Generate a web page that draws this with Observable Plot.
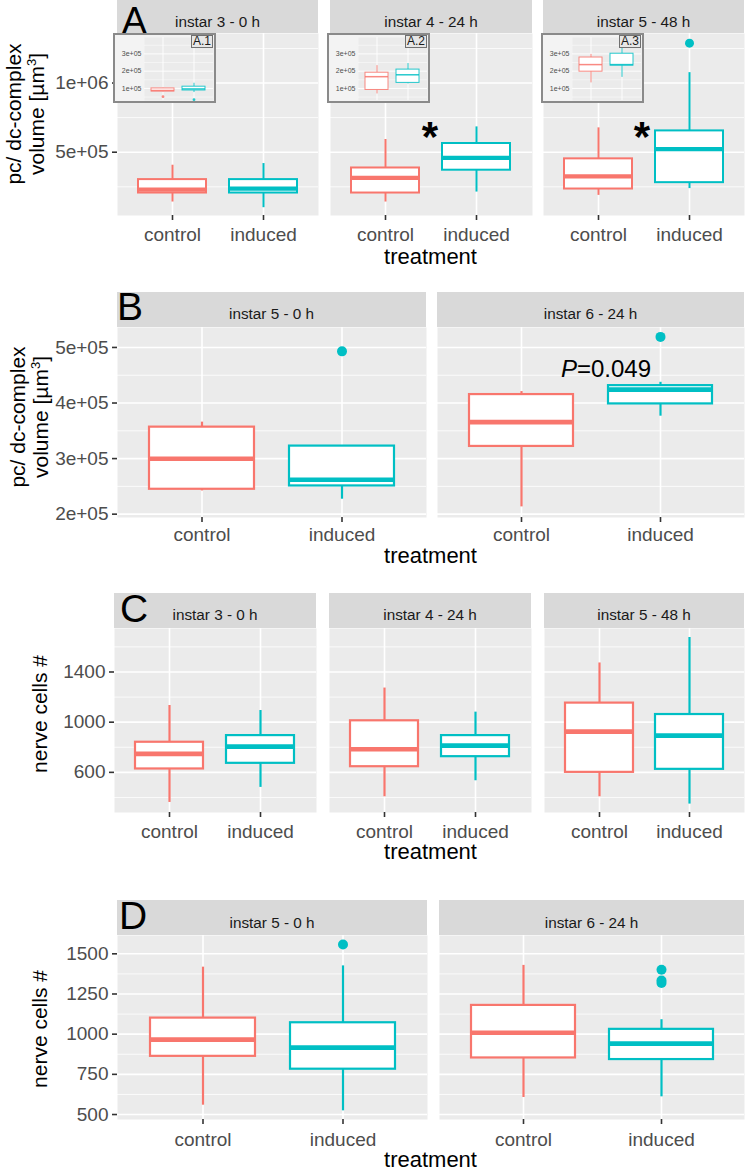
<!DOCTYPE html>
<html><head><meta charset="utf-8">
<script src="https://cdn.jsdelivr.net/npm/d3@7"></script>
<script src="https://cdn.jsdelivr.net/npm/@observablehq/plot@0.6"></script>
<style>
body{margin:0;background:#fff;}
#root{position:relative;width:749px;height:1171px;overflow:hidden;font-family:"Liberation Sans",Arial,sans-serif;background:#fff;}
.strip{position:absolute;background:#D9D9D9;}
.stript{position:absolute;color:#1a1a1a;font-size:15.3px;line-height:15px;text-align:center;white-space:nowrap;}
.tag{position:absolute;font-size:39px;color:#000;line-height:30px;}
.xt{position:absolute;font-size:22px;color:#000;text-align:center;line-height:22px;}
.yt{position:absolute;font-size:21px;color:#000;text-align:center;white-space:nowrap;transform:rotate(-90deg);transform-origin:50% 50%;}
.yt sup{font-size:13px;line-height:0;vertical-align:super;}
.inset{position:absolute;box-sizing:border-box;border:2px solid #8a8a8a;background:#f3f3f3;}
.ilabel{position:absolute;right:1px;top:0px;border:1.5px solid #707070;background:#e6e6e6;font-size:12px;line-height:11px;padding:0 1px;color:#1a1a1a;}
.ann{position:absolute;color:#000;text-align:center;white-space:nowrap;}
</style></head><body><div id="root"></div><script>
// ---------------- data ----------------
const treatments = ["control", "induced"];
const stagesA = ["instar 3 - 0 h", "instar 4 - 24 h", "instar 5 - 48 h"];
const stagesB = ["instar 5 - 0 h", "instar 6 - 24 h"];

// A: pc/dc-complex volume, per stage: control, induced
const volA_low  = [140e3,  99e3, 140e3, 212e3, 188e3,  237e3];
const volA_q1   = [205e3, 205e3, 205e3, 370e3, 234e3,  280e3];
const volA_med  = [230e3, 237e3, 314e3, 459e3, 326e3,  522e3];
const volA_q3   = [302e3, 302e3, 386e3, 563e3, 452e3,  654e3];
const volA_high = [406e3, 418e3, 592e3, 683e3, 676e3, 1075e3];
const volA_outStage = ["instar 5 - 48 h"];
const volA_outTreatment = ["induced"];
const volA_outValue = [1288e3];
const volA_ticks = [5e5, 1e6];
const volA_tickLabels = ["5e+05", "1e+06"];
const volA_minor = [2.5e5, 7.5e5, 1.25e6];

// A insets (A.1 - A.3)
const insetA_labels = ["A.1", "A.2", "A.3"];
const insetA_low  = [ 80e3,  76e3,  68e3, 126e3, 132e3, 164e3];
const insetA_q1   = [ 82e3,  88e3,  91e3, 132e3, 197e3, 232e3];
const insetA_med  = [ 88e3,  97e3, 168e3, 179e3, 238e3, 238e3];
const insetA_q3   = [100e3, 110e3, 191e3, 209e3, 279e3, 301e3];
const insetA_high = [102e3, 130e3, 232e3, 244e3, 297e3, 385e3];
const insetA_outStage = ["instar 3 - 0 h", "instar 3 - 0 h"];
const insetA_outTreatment = ["control", "induced"];
const insetA_outValue = [52e3, 35e3];
const insetA_ticks = [1e5, 2e5, 3e5];
const insetA_tickLabels = ["1e+05", "2e+05", "3e+05"];
const insetA_minor = [0.5e5, 1.5e5, 2.5e5, 3.5e5];

// B: pc/dc-complex volume
const volB_low  = [241.8e3, 226.9e3, 213.1e3, 376.3e3];
const volB_q1   = [244.8e3, 250.8e3, 321.9e3, 398.4e3];
const volB_med  = [299.8e3, 262.0e3, 365.6e3, 424.1e3];
const volB_q3   = [356.6e3, 322.5e3, 415.2e3, 431.3e3];
const volB_high = [365.6e3, 322.5e3, 420.6e3, 437.3e3];
const volB_outStage = ["instar 5 - 0 h", "instar 6 - 24 h"];
const volB_outTreatment = ["induced", "induced"];
const volB_outValue = [493e3, 519e3];
const volB_ticks = [2e5, 3e5, 4e5, 5e5];
const volB_tickLabels = ["2e+05", "3e+05", "4e+05", "5e+05"];
const volB_minor = [2.5e5, 3.5e5, 4.5e5];

// C: nerve cells
const cellsC_low  = [ 360,  480,  405,  533,  405,  347];
const cellsC_q1   = [ 627,  672,  645,  725,  600,  624];
const cellsC_med  = [ 747,  805,  784,  813,  925,  893];
const cellsC_q3   = [ 840,  893, 1011,  893, 1152, 1061];
const cellsC_high = [1133, 1093, 1272, 1080, 1472, 1675];
const cellsC_ticks = [600, 1000, 1400];
const cellsC_tickLabels = ["600", "1000", "1400"];
const cellsC_minor = [400, 800, 1200, 1600];

// D: nerve cells
const cellsD_low  = [ 558,  523,  606,  610];
const cellsD_q1   = [ 862,  782,  852,  842];
const cellsD_med  = [ 966,  916, 1009,  941];
const cellsD_q3   = [1100, 1071, 1179, 1030];
const cellsD_high = [1417, 1425, 1428, 1090];
const cellsD_outStage = ["instar 5 - 0 h", "instar 6 - 24 h", "instar 6 - 24 h", "instar 6 - 24 h"];
const cellsD_outTreatment = ["induced", "induced", "induced", "induced"];
const cellsD_outValue = [1558, 1401, 1334, 1318];
const cellsD_ticks = [500, 750, 1000, 1250, 1500];
const cellsD_tickLabels = ["500", "750", "1000", "1250", "1500"];
const cellsD_minor = [625, 875, 1125, 1375];

const treatmentColors = ["#F8766D", "#00BFC4"];

// ---------------- helpers ----------------
function makeBoxes(stages, low, q1, med, q3, high) {
  return stages.flatMap((s, si) => treatments.map((t, ti) => {
    const i = si * treatments.length + ti;
    return {stage: s, treatment: t, low: low[i], q1: q1[i], med: med[i], q3: q3[i], high: high[i]};
  }));
}
function makeOuts(st, tr, val) {
  return (st || []).map((s, i) => ({stage: s, treatment: tr[i], value: val[i]}));
}

const root = document.getElementById("root");
function place(el, left, top) {
  el.style.position = "absolute"; el.style.left = left + "px"; el.style.top = top + "px";
  root.appendChild(el); return el;
}
function div(cls, html, left, top, w, h) {
  const d = document.createElement("div"); d.className = cls; d.innerHTML = html;
  if (w != null) d.style.width = w + "px";
  if (h != null) d.style.height = h + "px";
  return place(d, left, top);
}

function panelPlot(o) {
  const fmt = new Map(o.ticks.map((t, i) => [t, o.tickLabels[i]]));
  const marks = [
    Plot.frame({fill: "#EBEBEB", stroke: "none"}),
    Plot.ruleY(o.minor, {stroke: "white", strokeWidth: o.minorW}),
    Plot.ruleY(o.ticks, {stroke: "white", strokeWidth: o.majorW}),
    Plot.ruleX(treatments, {stroke: "white", strokeWidth: o.majorW}),
    Plot.ruleX(o.boxes, {x: "treatment", y1: "low", y2: "q1", stroke: "treatment", strokeWidth: o.sw, strokeOpacity: o.op}),
    Plot.ruleX(o.boxes, {x: "treatment", y1: "q3", y2: "high", stroke: "treatment", strokeWidth: o.sw, strokeOpacity: o.op}),
    Plot.barY(o.boxes, {x: "treatment", y1: "q1", y2: "q3", fill: "white", stroke: "treatment", strokeWidth: o.sw, strokeOpacity: o.op}),
    Plot.tickY(o.boxes, {x: "treatment", y: "med", stroke: "treatment", strokeWidth: o.mw, strokeOpacity: o.op}),
    Plot.dot(o.outs, {x: "treatment", y: "value", fill: "treatment", r: o.r, stroke: "none", fillOpacity: o.op})
  ];
  if (o.showY) marks.push(Plot.axisY(o.ticks, {tickFormat: d => fmt.get(d), tickSize: o.ytSize, tickPadding: o.ytPad, fontSize: o.fontSize, fill: o.tickColor, stroke: "#333", strokeWidth: o.tickW, label: null}));
  if (o.showX) marks.push(Plot.axisX({tickSize: 5, tickPadding: o.xPad, fontSize: o.fontSize, fill: "#4d4d4d", stroke: "#333", strokeWidth: 1.6, label: null}));
  return Plot.plot({
    width: o.mL + o.pw + o.mR, height: o.mT + o.ph + o.mB,
    marginLeft: o.mL, marginRight: o.mR, marginTop: o.mT, marginBottom: o.mB,
    x: {type: "band", domain: treatments, paddingInner: 0.25, paddingOuter: 0.225, align: 0.5, axis: null},
    y: {domain: o.domain, axis: null},
    color: {domain: treatments, range: treatmentColors},
    style: {background: "none", fontFamily: "'Liberation Sans', Arial, sans-serif", overflow: "visible"},
    marks
  });
}

// ---------------- layout ----------------
const rows = [
  {stages: stagesA, boxes: makeBoxes(stagesA, volA_low, volA_q1, volA_med, volA_q3, volA_high),
   outs: makeOuts(volA_outStage, volA_outTreatment, volA_outValue),
   ticks: volA_ticks, tickLabels: volA_tickLabels, minor: volA_minor, domain: [42.6e3, 1.358e6],
   stripTop: -2, stripH: 35, panelTop: 33, panelBottom: 215, textBase: 26.5,
   panels: [[117, 318], [330, 532], [543, 744]], r: 4.5, sw: 2, mw: 4.2, xPad: 7},
  {stages: stagesB, boxes: makeBoxes(stagesB, volB_low, volB_q1, volB_med, volB_q3, volB_high),
   outs: makeOuts(volB_outStage, volB_outTreatment, volB_outValue),
   ticks: volB_ticks, tickLabels: volB_tickLabels, minor: volB_minor, domain: [1.94e5, 5.359e5],
   stripTop: 292, stripH: 35, panelTop: 327, panelBottom: 517, textBase: 319,
   panels: [[117, 426], [437, 744]], r: 5, sw: 2.2, mw: 4.6, xPad: 5},
  {stages: stagesA, boxes: makeBoxes(stagesA, cellsC_low, cellsC_q1, cellsC_med, cellsC_q3, cellsC_high),
   outs: [],
   ticks: cellsC_ticks, tickLabels: cellsC_tickLabels, minor: cellsC_minor, domain: [280, 1746.7],
   stripTop: 593, stripH: 35, panelTop: 628, panelBottom: 812, textBase: 620,
   panels: [[114, 316], [329, 531], [544, 744]], r: 5, sw: 2.2, mw: 4.6, xPad: 7},
  {stages: stagesB, boxes: makeBoxes(stagesB, cellsD_low, cellsD_q1, cellsD_med, cellsD_q3, cellsD_high),
   outs: makeOuts(cellsD_outStage, cellsD_outTreatment, cellsD_outValue),
   ticks: cellsD_ticks, tickLabels: cellsD_tickLabels, minor: cellsD_minor, domain: [469, 1614],
   stripTop: 900, stripH: 35, panelTop: 935, panelBottom: 1119, textBase: 928,
   panels: [[117, 427], [439, 744]], r: 5, sw: 2.2, mw: 4.6, xPad: 8}
];

rows.forEach(row => {
  row.panels.forEach(([x0, x1], pi) => {
    const stage = row.stages[pi];
    const showY = pi === 0;
    const mL = showY ? x0 : 0;
    const svg = panelPlot({
      boxes: row.boxes.filter(d => d.stage === stage),
      outs: row.outs.filter(d => d.stage === stage),
      ticks: row.ticks, tickLabels: row.tickLabels, minor: row.minor, domain: row.domain,
      pw: x1 - x0, ph: row.panelBottom - row.panelTop, mL, mR: 0, mT: 0, mB: 40,
      showY, showX: true, fontSize: 19, tickColor: "#4d4d4d", ytSize: 5, ytPad: 4, tickW: 1.6,
      r: row.r, sw: row.sw, mw: row.mw, op: 1, majorW: 1.6, minorW: 0.8, xPad: row.xPad
    });
    place(svg, x0 - mL, row.panelTop);
    div("strip", "", x0, Math.max(0, row.stripTop), x1 - x0, row.panelTop - Math.max(0, row.stripTop));
    div("stript", stage, x0, row.textBase - 12.7, x1 - x0, 15);
  });
});

// insets in row A
const insetBoxes = makeBoxes(stagesA, insetA_low, insetA_q1, insetA_med, insetA_q3, insetA_high);
const insetOuts = makeOuts(insetA_outStage, insetA_outTreatment, insetA_outValue);
[113, 327, 541].forEach((left, pi) => {
  const stage = stagesA[pi];
  const box = div("inset", "", left, 33, 103, 70);
  const svg = panelPlot({
    boxes: insetBoxes.filter(d => d.stage === stage),
    outs: insetOuts.filter(d => d.stage === stage),
    ticks: insetA_ticks, tickLabels: insetA_tickLabels, minor: insetA_minor, domain: [0.3e5, 3.95e5],
    pw: 69, ph: 63, mL: 29, mR: 1, mT: 2, mB: 1,
    showY: true, showX: false, fontSize: 7, tickColor: "#4d4d4d", ytSize: 0, ytPad: 3, tickW: 0,
    r: 1.4, sw: 1, mw: 1.5, op: 0.85, majorW: 0.9, minorW: 0.45
  });
  svg.style.position = "absolute"; svg.style.left = "0px"; svg.style.top = "0px";
  box.appendChild(svg);
  const lab = document.createElement("div"); lab.className = "ilabel"; lab.textContent = insetA_labels[pi];
  box.appendChild(lab);
});

// panel tags (drawn last, on top)
const tagA = div("tag", "A", 122, 5.8); tagA.style.fontSize = "37px";
div("tag", "B", 117, 292);
div("tag", "C", 120, 594);
div("tag", "D", 119, 901);

// x titles
[246.4, 545.4, 841.4, 1149.4].forEach(t => div("xt", "treatment", 117, t, 627, 22));

// y titles
function ytitle(html, cx, cy, lines, lh) {
  const h = lines * lh;
  const d = div("yt", html, cx - 110, cy - h / 2, 220, h);
  d.style.lineHeight = lh + "px";
}
ytitle("pc/ dc-complex<br>volume [µm<sup>3</sup>]", 25, 114, 2, 23);
ytitle("pc/ dc-complex<br>volume [µm<sup>3</sup>]", 29, 417, 2, 23);
ytitle("nerve cells #", 40, 714, 1, 22);
ytitle("nerve cells #", 40, 1029, 1, 22);

// annotations
const a1 = div("ann", "*", 410, 116.4, 40, 42); a1.style.fontSize = "42px"; a1.style.fontWeight = "bold"; a1.style.lineHeight = "42px";
const a2 = div("ann", "*", 622, 116.4, 40, 42); a2.style.fontSize = "42px"; a2.style.fontWeight = "bold"; a2.style.lineHeight = "42px";
const p = div("ann", "<i>P</i>=0.049", 546, 356.7, 120, 24); p.style.fontSize = "24px"; p.style.lineHeight = "24px";
</script></body></html>
